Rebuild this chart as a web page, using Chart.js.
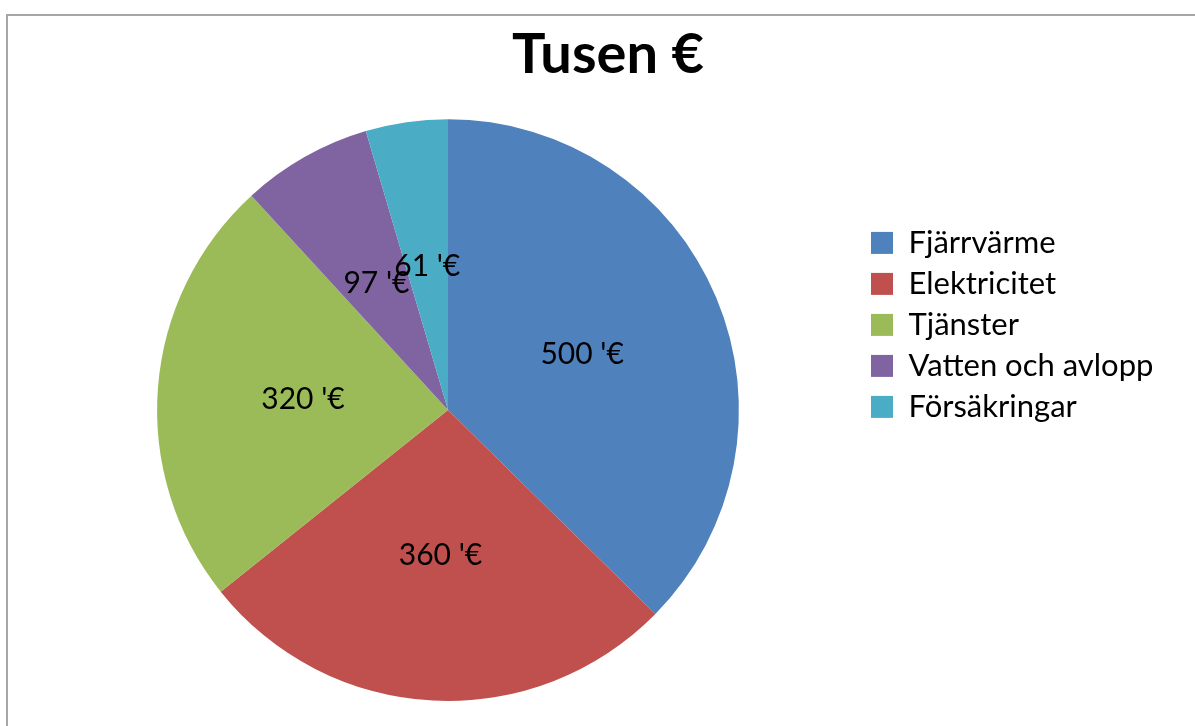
<!DOCTYPE html>
<html lang="sv">
<head>
  <meta charset="UTF-8" />
  <title>Tusen €</title>
  <script src="https://cdn.jsdelivr.net/npm/chart.js"></script>
  <style>
    body {
      margin: 0;
      background: #fff;
      overflow: hidden;
    }
    .frame {
      position: absolute;
      left: 6px;
      top: 14px;
      width: 1300px;
      height: 800px;
      border-top: 2px solid #a6a6a6;
      border-left: 2px solid #a6a6a6;
    }
    #pie {
      position: absolute;
      left: 0;
      top: 0;
    }
  </style>
</head>
<body>
  <div class="frame"></div>
  <canvas id="pie" width="1195" height="726"></canvas>

  <script>
    const categories = ['Fjärrvärme', 'Elektricitet', 'Tjänster', 'Vatten och avlopp', 'Försäkringar'];
    const values = [500, 360, 320, 97, 61];
    const colors = ['#4F81BD', '#C0504D', '#9BBB59', '#8064A2', '#4BACC6'];

    const FONT = 'Lato, "Open Sans", sans-serif';
    const LEGEND_W = 320;

    // value labels in the middle of each slice
    const sliceLabels = {
      id: 'sliceLabels',
      afterDatasetsDraw(chart) {
        const ctx = chart.ctx;
        const meta = chart.getDatasetMeta(0);
        ctx.save();
        ctx.font = '30px ' + FONT;
        ctx.fillStyle = '#000';
        ctx.textAlign = 'center';
        ctx.textBaseline = 'middle';
        meta.data.forEach((arc, i) => {
          const p = arc.tooltipPosition();
          ctx.fillText(values[i] + " '€", p.x, p.y);
        });
        ctx.restore();
      }
    };

    // keep the legend column a fixed width so the pie sits left of centre
    const legendWidth = {
      id: 'legendWidth',
      beforeLayout(chart) {
        const lg = chart.legend;
        if (lg && !lg._fixedW) {
          const fit = lg.fit.bind(lg);
          lg.fit = function () { fit(); this.width = LEGEND_W; };
          lg._fixedW = true;
        }
      }
    };

    new Chart(document.getElementById('pie'), {
      type: 'pie',
      data: {
        labels: categories,
        datasets: [{
          data: values,
          backgroundColor: colors,
          borderWidth: 0
        }]
      },
      options: {
        responsive: false,
        animation: false,
        layout: {
          padding: { left: 35, right: 14, top: 0, bottom: 25 }
        },
        plugins: {
          title: {
            display: true,
            text: 'Tusen €',
            color: '#000',
            font: { family: FONT, size: 56, weight: 'bold' },
            padding: { top: 21, bottom: 31 }
          },
          legend: {
            position: 'right',
            align: 'start',
            title: {
              display: true,
              text: '',
              padding: { top: 203, bottom: 0 }
            },
            labels: {
              color: '#000',
              font: { family: FONT, size: 31 },
              boxWidth: 22,
              boxHeight: 22,
              padding: 10
            }
          },
          tooltip: { enabled: false }
        }
      },
      plugins: [sliceLabels, legendWidth]
    });
  </script>
</body>
</html>
